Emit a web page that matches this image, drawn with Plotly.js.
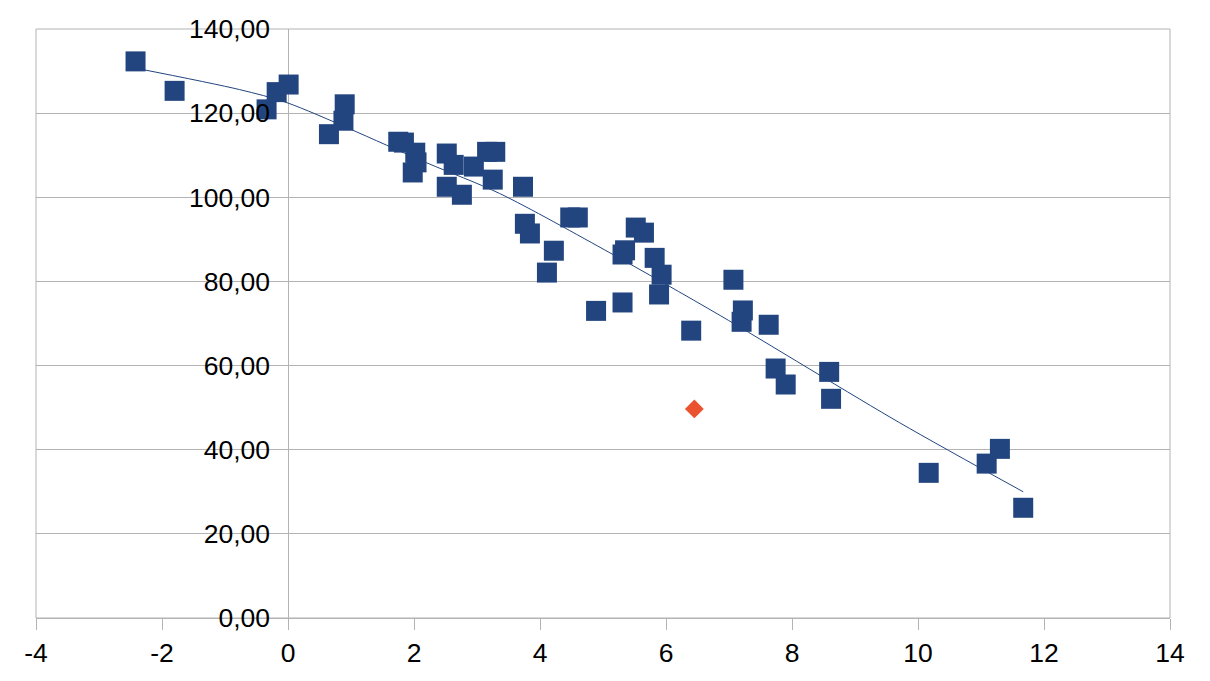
<!DOCTYPE html>
<html>
<head>
<meta charset="utf-8">
<script src="https://cdn.plot.ly/plotly-3.0.1.min.js"></script>
<style>
  html, body { margin: 0; padding: 0; background: #fff; }
  #graph { width: 1210px; height: 681px; }
</style>
</head>
<body>
<div id="graph"></div>
<script>
const pointsX = [-2.42, -1.80, -0.34, -0.18, 0.01, 0.65, 0.90, 0.88, 1.75, 1.84,
  2.02, 2.04, 1.98, 2.52, 2.63, 2.52, 2.76, 2.95, 3.16, 3.29,
  3.25, 3.73, 3.76, 3.84, 4.22, 4.11, 4.48, 4.60, 4.89, 5.31,
  5.35, 5.31, 5.52, 5.65, 5.82, 5.93, 5.89, 6.40, 7.07, 7.22,
  7.20, 7.63, 7.74, 7.90, 8.59, 8.62, 10.17, 11.09, 11.30, 11.67];
const pointsY = [132.3, 125.3, 120.9, 125.0, 126.8, 115.0, 122.1, 118.2, 113.2, 113.0,
  110.6, 108.3, 105.9, 110.4, 107.7, 102.5, 100.6, 107.3, 110.8, 110.8,
  104.2, 102.5, 93.7, 91.4, 87.3, 82.1, 95.2, 95.2, 73.0, 86.4,
  87.4, 75.0, 92.8, 91.6, 85.6, 81.6, 76.9, 68.3, 80.4, 73.1,
  70.4, 69.7, 59.3, 55.5, 58.5, 52.1, 34.5, 36.7, 40.2, 26.2];

// the odd one out
const outlierX = [6.45];
const outlierY = [49.7];

// trend line, points
const trendX = [-2.42, -0.77, 0, 2.20, 3.36, 5.11, 6.86, 9.71, 11.67];
const trendY = [130.7, 125.6, 122.4, 108.2, 100.9, 86.8, 71.9, 46.4, 30.0];

const xTickVals = [-4, -2, 0, 2, 4, 6, 8, 10, 12, 14];
const xTickText = ['-4', '-2', '0', '2', '4', '6', '8', '10', '12', '14'];

const blue = '#224580';
const orange = '#ea532e';
const grey = '#b3b3b3';

const trend = {
  x: trendX, y: trendY,
  mode: 'lines',
  line: { color: blue, width: 1, shape: 'spline', smoothing: 0.8 },
  hoverinfo: 'skip'
};

const points = {
  x: pointsX, y: pointsY,
  mode: 'markers',
  marker: { symbol: 'square', size: 20, color: blue }
};

const outlier = {
  x: outlierX, y: outlierY,
  mode: 'markers',
  marker: { symbol: 'diamond', size: 14.5, color: orange }
};

const layout = {
  width: 1210, height: 681,
  margin: { l: 36, r: 40, t: 29, b: 63, pad: 0 },
  showlegend: false,
  paper_bgcolor: '#fff',
  plot_bgcolor: '#fff',
  separators: ', ',
  font: { family: 'Liberation Sans, Arial, sans-serif', size: 26.5, color: '#000' },
  xaxis: {
    range: [-4, 14],
    tickmode: 'array', tickvals: xTickVals, ticktext: xTickText,
    ticks: 'outside', ticklen: 11, tickcolor: grey, tickwidth: 1,
    ticklabelstandoff: 0,
    showline: true, linecolor: grey, linewidth: 1,
    showgrid: false,
    zeroline: true, zerolinecolor: grey, zerolinewidth: 1
  },
  yaxis: {
    range: [0, 140], dtick: 20, tickformat: '.2f',
    anchor: 'free', position: 4 / 18,
    ticks: '', ticklabelstandoff: 18,
    showline: false,
    gridcolor: grey, gridwidth: 1,
    zeroline: false
  },
  shapes: [{
    type: 'rect', xref: 'paper', yref: 'paper',
    x0: 0, x1: 1, y0: 0, y1: 1,
    line: { color: grey, width: 1 }, layer: 'below'
  }]
};

Plotly.newPlot('graph', [trend, points, outlier], layout, { displayModeBar: false, staticPlot: true });
</script>
</body>
</html>
